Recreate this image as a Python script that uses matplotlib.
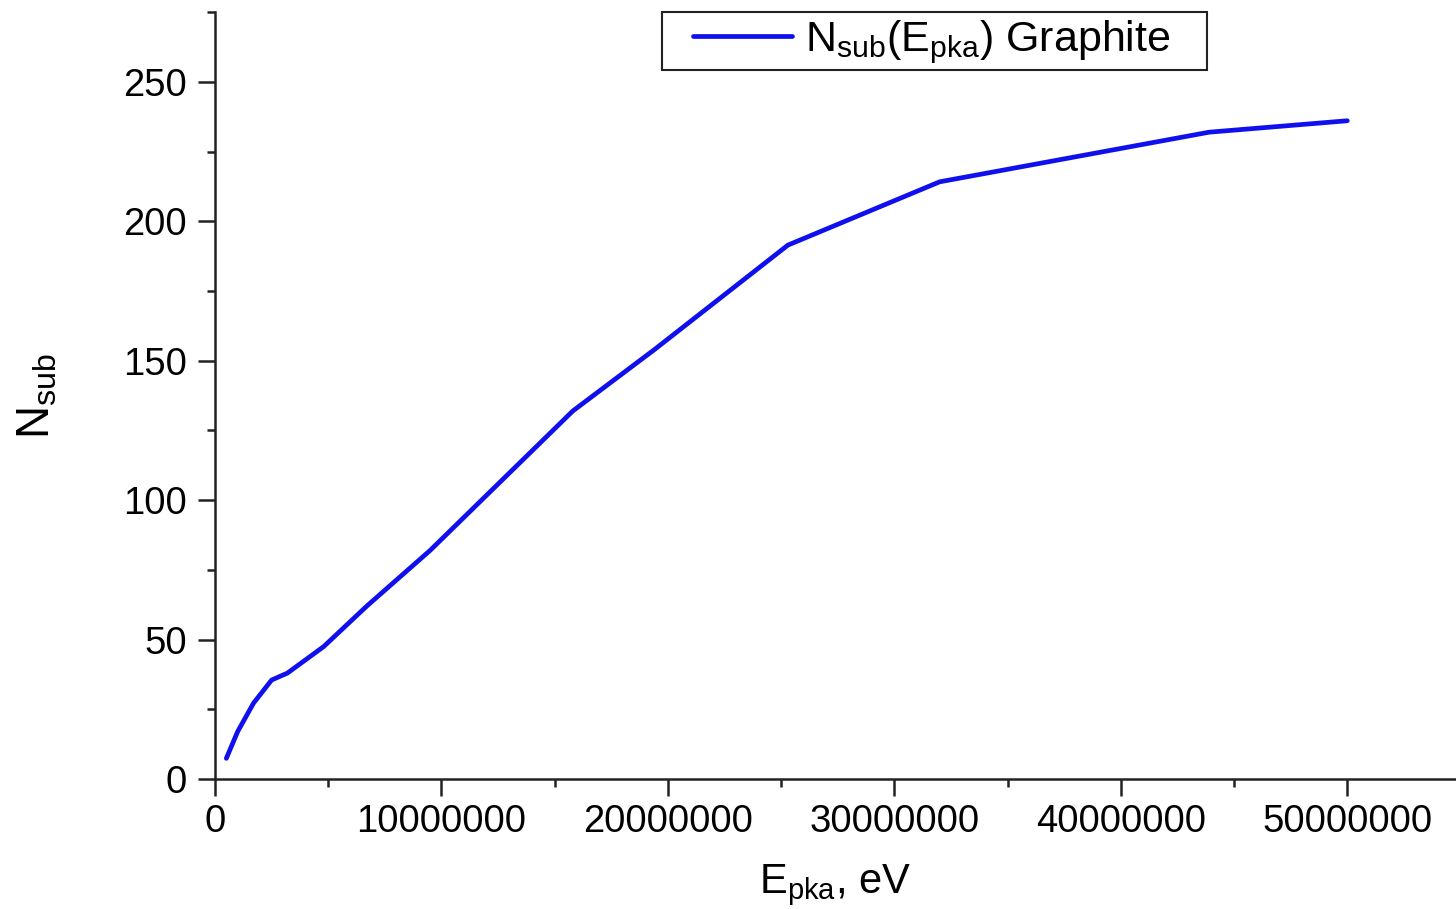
import matplotlib
matplotlib.use('Agg')
import matplotlib.pyplot as plt
from matplotlib.ticker import MultipleLocator
from matplotlib.patches import Rectangle

plt.rcParams['font.family'] = ['Liberation Sans', 'DejaVu Sans']
plt.rcParams['mathtext.default'] = 'regular'

# E_pka (eV) vs number of substitutions
e_pka = [0.5e6, 1.0e6, 1.7e6, 2.5e6, 3.2e6, 4.8e6, 6.7e6, 9.5e6,
         15.8e6, 19.4e6, 25.3e6, 32.0e6, 43.9e6, 50.0e6]
n_sub = [7.4, 17.0, 27.2, 35.5, 38.0, 47.5, 62.0, 82.0,
         132.0, 154.0, 191.5, 214.2, 232.0, 236.1]

x_ticks = [0, 10000000, 20000000, 30000000, 40000000, 50000000]
y_ticks = [0, 50, 100, 150, 200, 250]

fig = plt.figure(figsize=(14.56, 9.09), dpi=100)
ax = fig.add_axes([215/1456, 1 - 779/909, 1 - 215/1456, (779 - 12.3)/909])

ax.plot(e_pka, n_sub, color='#1010ee', lw=3.4, solid_capstyle='round',
        label=r'N$_{sub}$(E$_{pka}$) Graphite')

ax.set_xlim(0, 54.8e6)
ax.set_ylim(0, 275)
ax.set_xticks(x_ticks)
ax.set_xticklabels([str(v) for v in x_ticks])
ax.set_yticks(y_ticks)
ax.xaxis.set_minor_locator(MultipleLocator(5e6))
ax.yaxis.set_minor_locator(MultipleLocator(25))

for s in ['top', 'right']:
    ax.spines[s].set_visible(False)
for s in ['left', 'bottom']:
    ax.spines[s].set_linewidth(1.8)
    ax.spines[s].set_color('#222222')

ax.tick_params(which='major', length=12, width=1.8, color='#222222',
               labelsize=27.5, direction='out')
ax.tick_params(which='minor', length=6, width=1.8, color='#222222', direction='out')
ax.tick_params(axis='y', pad=8)
ax.tick_params(axis='x', pad=6)

ax.set_xlabel(r'E$_{pka}$, eV', fontsize=30, labelpad=16)
ax.set_ylabel(r'N$_{sub}$', fontsize=33, labelpad=46)

leg = ax.legend(loc='upper left', bbox_to_anchor=(684/1456, 1 - 10/909),
                bbox_transform=fig.transFigure, fontsize=31, frameon=False,
                borderaxespad=0, handlelength=2.3,
                borderpad=0.2, handletextpad=0.3)

# legend box drawn separately: wide side padding, tight top/bottom
fig.patches.append(Rectangle((662/1456, 1 - 70/909), (1207 - 662)/1456, 58/909,
                             transform=fig.transFigure, fill=False,
                             edgecolor='#222222', linewidth=1.5))

fig.savefig('out.png', dpi=100)
